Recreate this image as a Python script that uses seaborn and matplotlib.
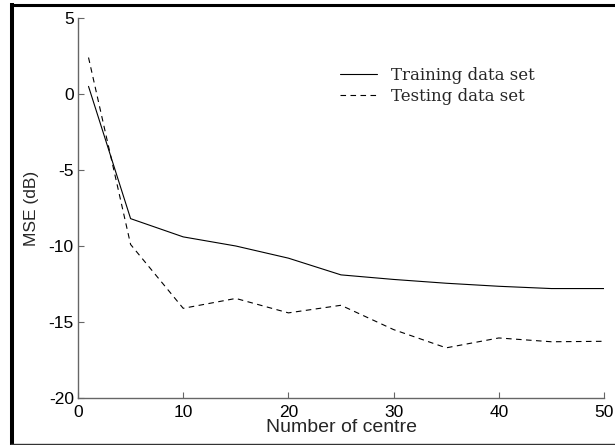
import matplotlib
matplotlib.use("Agg")
import matplotlib.pyplot as plt
import seaborn as sns
import pandas as pd
from matplotlib.lines import Line2D

centres = [1, 5, 10, 15, 20, 25, 30, 35, 40, 45, 50]
training = [0.5, -8.2, -9.4, -10.0, -10.8, -11.9, -12.2, -12.45, -12.65, -12.8, -12.8]
testing = [2.4, -9.9, -14.1, -13.45, -14.4, -13.9, -15.5, -16.7, -16.05, -16.3, -16.27]
x_ticks = [0, 10, 20, 30, 40, 50]
y_ticks = [-20, -15, -10, -5, 0, 5]

sns.set_style("white")
plt.rcParams['font.family'] = ['Liberation Sans', 'DejaVu Sans']
plt.rcParams['axes.unicode_minus'] = False

df = pd.DataFrame({
    "centre": centres * 2,
    "mse": training + testing,
    "set": ["Training data set"] * len(centres) + ["Testing data set"] * len(centres),
})

W, H = 615, 445
fig = plt.figure(figsize=(6.15, 4.45), dpi=100)
ax = fig.add_axes([78 / W, 1 - 398 / H, (604 - 78) / W, (398 - 18) / H])

sns.lineplot(data=df, x="centre", y="mse", style="set",
             dashes={"Training data set": "", "Testing data set": (5, 4)},
             color="black", linewidth=0.8, ax=ax, legend=True)

ax.set_xlim(0, 50)
ax.set_ylim(-20, 5)
ax.set_xticks(x_ticks)
ax.set_yticks(y_ticks)
ax.tick_params(direction="in", length=4, width=0.8, colors="#666666",
               labelcolor="black", labelsize=12.5, bottom=True, left=True)
ax.tick_params(axis="x", pad=5)
ax.tick_params(axis="y", pad=3)
for s in ["top", "right"]:
    ax.spines[s].set_visible(False)
for s in ["left", "bottom"]:
    ax.spines[s].set_color("#666666")
    ax.spines[s].set_linewidth(1.0)

ax.set_xlabel("Number of centre", fontsize=14)
ax.set_ylabel("MSE (dB)", fontsize=12.5)
ax.xaxis.set_label_coords(0.5, -0.056)
ax.yaxis.set_label_coords(-0.074, 0.5)

leg = ax.legend(loc="upper left", bbox_to_anchor=(0.47, 0.91), frameon=False,
                prop={"family": "DejaVu Serif", "size": 12},
                handlelength=2.2, handletextpad=0.85, labelspacing=0.2,
                borderpad=0.4)
for line in leg.get_lines():
    line.set_color("black")
    line.set_linewidth(0.8)

# outer frame of the original picture
fig.add_artist(Line2D([12 / W, 12 / W], [0, 1 - 3 / H], transform=fig.transFigure,
                      color="black", linewidth=2.9, solid_capstyle="butt"))
fig.add_artist(Line2D([10 / W, 1], [1 - 4.5 / H, 1 - 4.5 / H], transform=fig.transFigure,
                      color="black", linewidth=2.2, solid_capstyle="butt"))
fig.add_artist(Line2D([10 / W, 1], [1 - 443.5 / H, 1 - 443.5 / H], transform=fig.transFigure,
                      color="#333333", linewidth=1.0, solid_capstyle="butt"))

fig.savefig("out.png", dpi=100)
